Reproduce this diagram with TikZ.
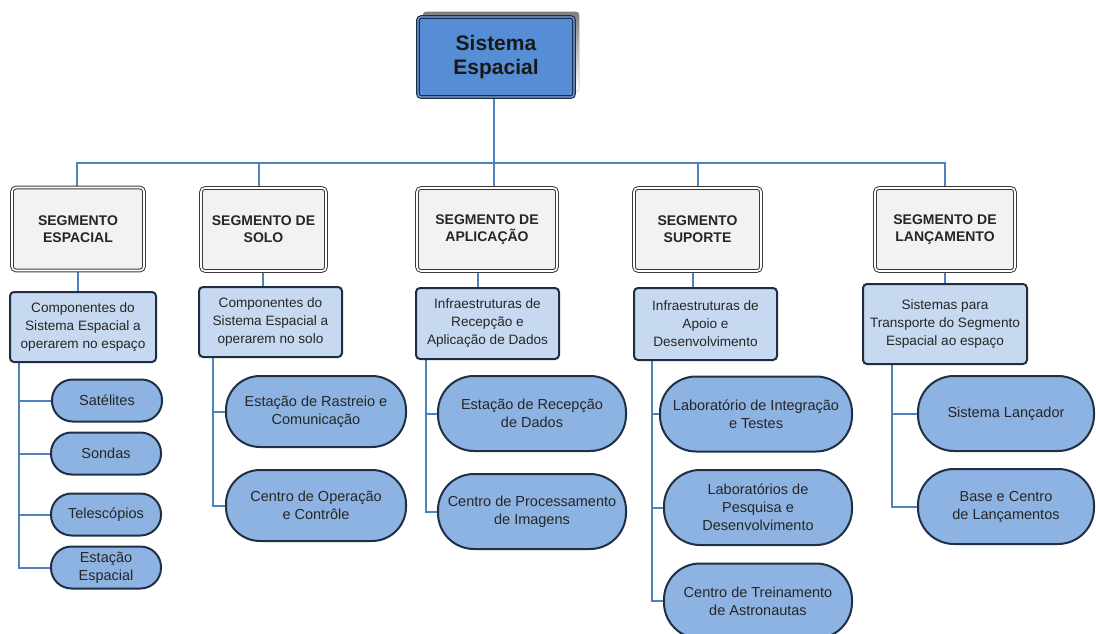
\documentclass[tikz,border=0pt]{standalone}
\usepackage{fontspec}
\setmainfont{Liberation Sans}
\usetikzlibrary{backgrounds}

\definecolor{wire}{HTML}{4F81BD}
\definecolor{topfill}{HTML}{558ED5}
\definecolor{topline}{HTML}{1C2E4A}
\definecolor{topmid}{HTML}{7FA7DD}
\definecolor{shade}{HTML}{C4C4C4}
\definecolor{segfill}{HTML}{F2F2F2}
\definecolor{segline}{HTML}{3A3A3A}
\definecolor{descfill}{HTML}{C6D9F1}
\definecolor{descline}{HTML}{1F2D3F}
\definecolor{pillfill}{HTML}{8DB3E2}
\definecolor{pillline}{HTML}{1F2F45}
\definecolor{ink}{HTML}{262626}

\begin{document}
\begin{tikzpicture}[x=1pt, y=-1pt,
  every node/.style={outer sep=0pt, inner sep=2pt, align=center, text=ink},
  topbox/.style={draw=topline, double=topmid, double distance=1.2pt, line width=1.2pt,
    fill=topfill, rounded corners=3pt, minimum width=156pt, minimum height=80pt,
    text=black!90, font=\bfseries\fontsize{21}{24}\selectfont},
  segbox/.style={draw=segline, double=white, double distance=1.6pt, line width=1pt,
    fill=segfill, rounded corners=4pt, minimum height=83pt,
    font=\bfseries\fontsize{14}{17}\selectfont},
  descbox/.style={draw=descline, line width=2pt, fill=descfill, rounded corners=4pt,
    font=\fontsize{13.6}{18}\selectfont},
  pill/.style={draw=pillline, line width=2pt, fill=pillfill,
    font=\fontsize{14.5}{18}\selectfont},
  pillS/.style={pill, minimum height=42pt, rounded corners=20.5pt},
  pillL/.style={pill, minimum height=75pt, rounded corners=36pt},
  link/.style={draw=wire, line width=2pt},
]
\useasboundingbox (0,0) rectangle (1096,634);
\begin{scope}
\clip (0,0) rectangle (1096,634);

% root
\node[topbox] (top) at (496,57) {Sistema\\Espacial};
\begin{scope}[on background layer]
  \fill[shade, rounded corners=3pt]
    ([xshift=5pt,yshift=5pt]top.south west) rectangle ([xshift=5pt,yshift=5pt]top.north east);
\end{scope}

% segments
\node[segbox, minimum width=132pt] (s1) at (78,229)    {SEGMENTO\\ESPACIAL};
\node[segbox, minimum width=125pt] (s2) at (263.5,229.5) {SEGMENTO DE\\SOLO};
\node[segbox, minimum width=140pt] (s3) at (487,229.5)   {SEGMENTO DE\\APLICAÇÃO};
\node[segbox, minimum width=127pt] (s4) at (697.5,229.5) {SEGMENTO\\SUPORTE};
\node[segbox, minimum width=140pt] (s5) at (945,229.5)   {SEGMENTO DE\\LANÇAMENTO};

% descriptions
\node[descbox, minimum width=146pt, minimum height=70pt] (d1) at (83,327)
  {Componentes do\\Sistema Espacial a\\operarem no espaço};
\node[descbox, minimum width=143pt, minimum height=70pt] (d2) at (270.5,322)
  {Componentes do\\Sistema Espacial a\\operarem no solo};
\node[descbox, minimum width=143pt, minimum height=71pt] (d3) at (487.5,323.5)
  {Infraestruturas de\\Recepção e\\Aplicação de Dados};
\node[descbox, minimum width=143pt, minimum height=72pt] (d4) at (705.5,324)
  {Infraestruturas de\\Apoio e\\Desenvolvimento};
\node[descbox, minimum width=164pt, minimum height=80pt] (d5) at (945,324)
  {Sistemas para\\Transporte do Segmento\\Espacial ao espaço};

% leaves
\node[pillS, minimum width=110pt] (e1) at (107,400.5) {Satélites};
\node[pillS, minimum width=110pt] (e2) at (106,453.5) {Sondas};
\node[pillS, minimum width=110pt] (e3) at (106,514.5) {Telescópios};
\node[pillS, minimum width=110pt] (e4) at (106,567.5) {Estação\\Espacial};

\node[pillL, minimum width=180pt, minimum height=71pt, rounded corners=34pt] (o1) at (316,411.5) {Estação de Rastreio e\\Comunicação};
\node[pillL, minimum width=180pt, minimum height=71pt, rounded corners=34pt] (o2) at (316,505.5) {Centro de Operação\\e Contrôle};

\node[pillL, minimum width=188pt] (a1) at (532,413.5) {Estação de Recepção\\de Dados};
\node[pillL, minimum width=188pt] (a2) at (532,511.5) {Centro de Processamento\\de Imagens};

\node[pillL, minimum width=192pt] (u1) at (756,414)   {Laboratório de Integração\\e Testes};
\node[pillL, minimum width=188pt] (u2) at (758,507.5) {Laboratórios de\\Pesquisa e\\Desenvolvimento};
\node[pillL, minimum width=188pt] (u3) at (758,601)   {Centro de Treinamento\\de Astronautas};

\node[pillL, minimum width=176pt] (l1) at (1006,413.5) {Sistema Lançador};
\node[pillL, minimum width=176pt] (l2) at (1006,506.5) {Base e Centro\\de Lançamentos};

% connector columns
\coordinate (bus) at (0,163);
\coordinate (b1) at (77,0);  \coordinate (b2) at (259,0); \coordinate (b3) at (494,0);
\coordinate (b4) at (698,0); \coordinate (b5) at (945,0);
\coordinate (k1) at (78,0);  \coordinate (k2) at (263,0); \coordinate (k3) at (478,0);
\coordinate (k4) at (693,0); \coordinate (k5) at (945,0);
\coordinate (t1) at (19,0);  \coordinate (t2) at (213,0); \coordinate (t3) at (426,0);
\coordinate (t4) at (652,0); \coordinate (t5) at (892,0);

\begin{scope}[on background layer]
% root to segments
\draw[link] (top.south -| b3) -- (s3.north -| b3);
\draw[link] (s1.north -| b1) |- (bus -| b5) -- (s5.north -| b5);
\draw[link] (s2.north -| b2) -- (bus -| b2);
\draw[link] (s4.north -| b4) -- (bus -| b4);

% segments to descriptions
\foreach \i in {1,...,5}
  \draw[link] (s\i.south -| k\i) -- (d\i.north -| k\i);

% descriptions to leaves
\foreach \n in {e1,e2,e3,e4} \draw[link] (d1.south -| t1) |- (\n.west);
\foreach \n in {o1,o2}       \draw[link] (d2.south -| t2) |- (\n.west);
\foreach \n in {a1,a2}       \draw[link] (d3.south -| t3) |- (\n.west);
\foreach \n in {u1,u2,u3}    \draw[link] (d4.south -| t4) |- (\n.west);
\foreach \n in {l1,l2}       \draw[link] (d5.south -| t5) |- (\n.west);
\end{scope}
\end{scope}
\end{tikzpicture}
\end{document}
